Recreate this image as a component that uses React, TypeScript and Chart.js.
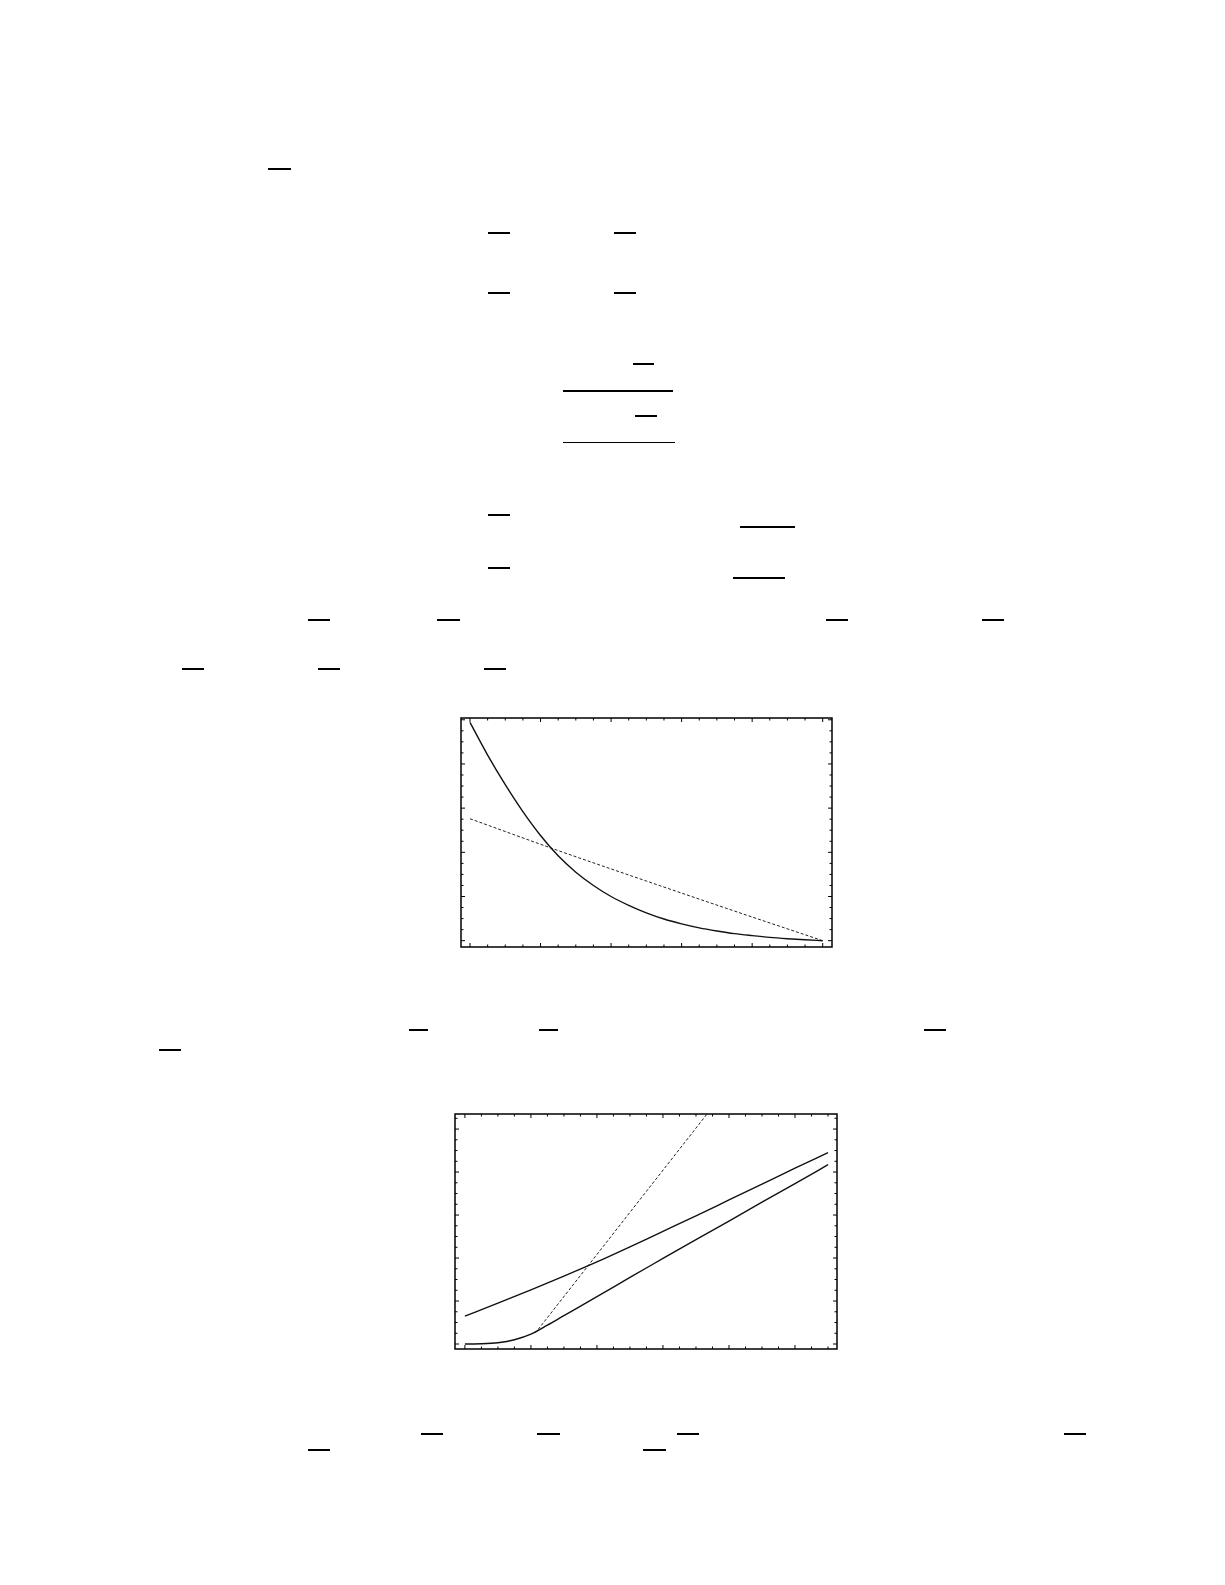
import { useEffect, useRef } from "react"
import { Chart, registerables } from "chart.js"

Chart.register(...registerables)

// upper plot: decaying curve (solid) and nearly straight line (dashed)
const decayX = [0, 0.05, 0.1, 0.15, 0.2, 0.25, 0.3, 0.35, 0.4, 0.45, 0.5, 0.55, 0.6, 0.65, 0.7, 0.75, 0.8, 0.85, 0.9, 0.95, 1]
const decaySolid = [4.94, 4.2, 3.53, 2.92, 2.38, 1.92, 1.55, 1.25, 1.0, 0.8, 0.63, 0.49, 0.38, 0.29, 0.22, 0.16, 0.115, 0.075, 0.045, 0.02, 0]
const decayDashX = [0, 0.25, 0.5, 0.75, 1]
const decayDashY = [2.76, 2.04, 1.35, 0.67, 0]

// lower plot: two solid curves and a steep dashed line
const growUpperX = [0, 0.5, 1, 1.5, 2, 2.5, 3, 3.5, 4, 4.5, 5, 5.5]
const growUpperY = [0.65, 0.95, 1.26, 1.58, 1.91, 2.26, 2.62, 2.98, 3.35, 3.72, 4.09, 4.45]
const growLowerX = [0, 0.25, 0.5, 0.75, 1, 1.25, 1.5, 2, 2.5, 3, 3.5, 4, 4.5, 5, 5.5]
const growLowerY = [0, 0.005, 0.03, 0.1, 0.23, 0.44, 0.66, 1.1, 1.55, 1.99, 2.43, 2.86, 3.3, 3.73, 4.17]
const growDashX = [1.11, 3.8]
const growDashY = [0.34, 5.61]

// bars left over from the page text: [x1, x2, y, thickness]
const overlines = [
  [268, 291, 169, 2], [488, 510, 233, 2], [614, 636, 233, 2], [488, 510, 293, 2], [614, 636, 293, 2],
  [633, 654, 364, 2], [563, 673, 391, 2], [635, 657, 416, 2], [563, 675, 442, 1],
  [488, 510, 515, 2], [740, 795, 527, 2], [488, 510, 568, 2], [733, 785, 578, 2],
  [308, 330, 620, 2], [437, 460, 620, 2], [826, 848, 620, 2], [982, 1004, 620, 2],
  [182, 204, 669, 2], [318, 340, 669, 2], [484, 506, 669, 2],
  [409, 428, 1030, 2], [539, 558, 1030, 2], [924, 946, 1030, 2], [159, 181, 1050, 2],
  [421, 443, 1434, 2], [537, 560, 1434, 2], [677, 699, 1434, 2], [1064, 1086, 1434, 2],
  [308, 330, 1450, 2], [643, 666, 1450, 2],
]

const pts = (xs: number[], ys: number[]) => xs.map((x, i) => ({ x, y: ys[i] }))

type Series = { xs: number[]; ys: number[]; dashed?: boolean }

interface FrameOpts {
  xMajor: number
  xMinor: number
  xEnd: number
  yMajor: number
  yMinor: number
  yEnd: number
}

const framePlugin = (o: FrameOpts) => ({
  id: "frame",
  afterDraw(chart: any) {
    const { ctx, chartArea: a, scales } = chart
    const xs = scales.x
    const ys = scales.y
    ctx.save()
    ctx.strokeStyle = "#000"
    ctx.lineWidth = 1
    const near = (v: number, step: number) => Math.abs(v / step - Math.round(v / step)) < 1e-6
    for (let v = 0; v <= o.xEnd + 1e-9; v += o.xMinor) {
      const len = near(v, o.xMajor) ? 4 : 2.5
      const px = xs.getPixelForValue(v)
      ctx.beginPath()
      ctx.moveTo(px, a.bottom)
      ctx.lineTo(px, a.bottom - len)
      ctx.moveTo(px, a.top)
      ctx.lineTo(px, a.top + len)
      ctx.stroke()
    }
    for (let v = 0; v <= o.yEnd + 1e-9; v += o.yMinor) {
      const len = near(v, o.yMajor) ? 4 : 2.5
      const py = ys.getPixelForValue(v)
      if (py < a.top) continue
      ctx.beginPath()
      ctx.moveTo(a.left, py)
      ctx.lineTo(a.left + len, py)
      ctx.moveTo(a.right, py)
      ctx.lineTo(a.right - len, py)
      ctx.stroke()
    }
    ctx.lineWidth = 1.5
    ctx.strokeRect(a.left, a.top, a.right - a.left, a.bottom - a.top)
    ctx.restore()
  },
})

interface PlotProps {
  left: number
  top: number
  width: number
  height: number
  xMin: number
  xMax: number
  yMin: number
  yMax: number
  series: Series[]
  frame: FrameOpts
}

function Plot({ left, top, width, height, xMin, xMax, yMin, yMax, series, frame }: PlotProps) {
  const canvasRef = useRef<HTMLCanvasElement>(null)
  const chartRef = useRef<Chart | null>(null)

  useEffect(() => {
    if (!canvasRef.current) return
    if (chartRef.current) chartRef.current.destroy()

    chartRef.current = new Chart(canvasRef.current, {
      type: "line",
      data: {
        datasets: series.map((s) => ({
          data: pts(s.xs, s.ys),
          borderColor: s.dashed ? "#222" : "#111",
          borderWidth: s.dashed ? 1 : 1.4,
          borderDash: s.dashed ? [3, 2] : [],
          borderJoinStyle: "round" as const,
          pointRadius: 0,
          fill: false,
          cubicInterpolationMode: "monotone" as const,
        })),
      },
      options: {
        animation: false,
        responsive: true,
        maintainAspectRatio: false,
        layout: { padding: 2 },
        plugins: { legend: { display: false }, tooltip: { enabled: false } },
        scales: {
          x: { type: "linear", min: xMin, max: xMax, display: false },
          y: { type: "linear", min: yMin, max: yMax, display: false },
        },
      },
      plugins: [framePlugin(frame)],
    })

    return () => {
      chartRef.current?.destroy()
      chartRef.current = null
    }
  }, [])

  return (
    <div style={{ position: "absolute", left: left - 8 - 2, top: top - 8 - 2, width: width + 4, height: height + 4 }}>
      <canvas ref={canvasRef}></canvas>
    </div>
  )
}

export default function App() {
  return (
    <div style={{ position: "relative", width: 1209, height: 1569, background: "#fff" }}>
      {overlines.map(([x1, x2, y, t], i) => (
        <div
          key={i}
          style={{ position: "absolute", left: x1 - 8, top: y - 8 - t / 2, width: x2 - x1, height: t, background: "#000" }}
        />
      ))}
      <Plot
        left={461}
        top={718}
        width={371}
        height={229}
        xMin={-0.0255}
        xMax={1.0264}
        yMin={-0.143}
        yMax={5.04}
        series={[
          { xs: decayX, ys: decaySolid },
          { xs: decayDashX, ys: decayDashY, dashed: true },
        ]}
        frame={{ xMajor: 0.2, xMinor: 0.05, xEnd: 1, yMajor: 1, yMinor: 0.25, yEnd: 5 }}
      />
      <Plot
        left={455}
        top={1114}
        width={382}
        height={235}
        xMin={-0.15}
        xMax={5.636}
        yMin={-0.116}
        yMax={5.35}
        series={[
          { xs: growUpperX, ys: growUpperY },
          { xs: growLowerX, ys: growLowerY },
          { xs: growDashX, ys: growDashY, dashed: true },
        ]}
        frame={{ xMajor: 1, xMinor: 0.25, xEnd: 5.5, yMajor: 1, yMinor: 0.25, yEnd: 5.25 }}
      />
    </div>
  )
}
